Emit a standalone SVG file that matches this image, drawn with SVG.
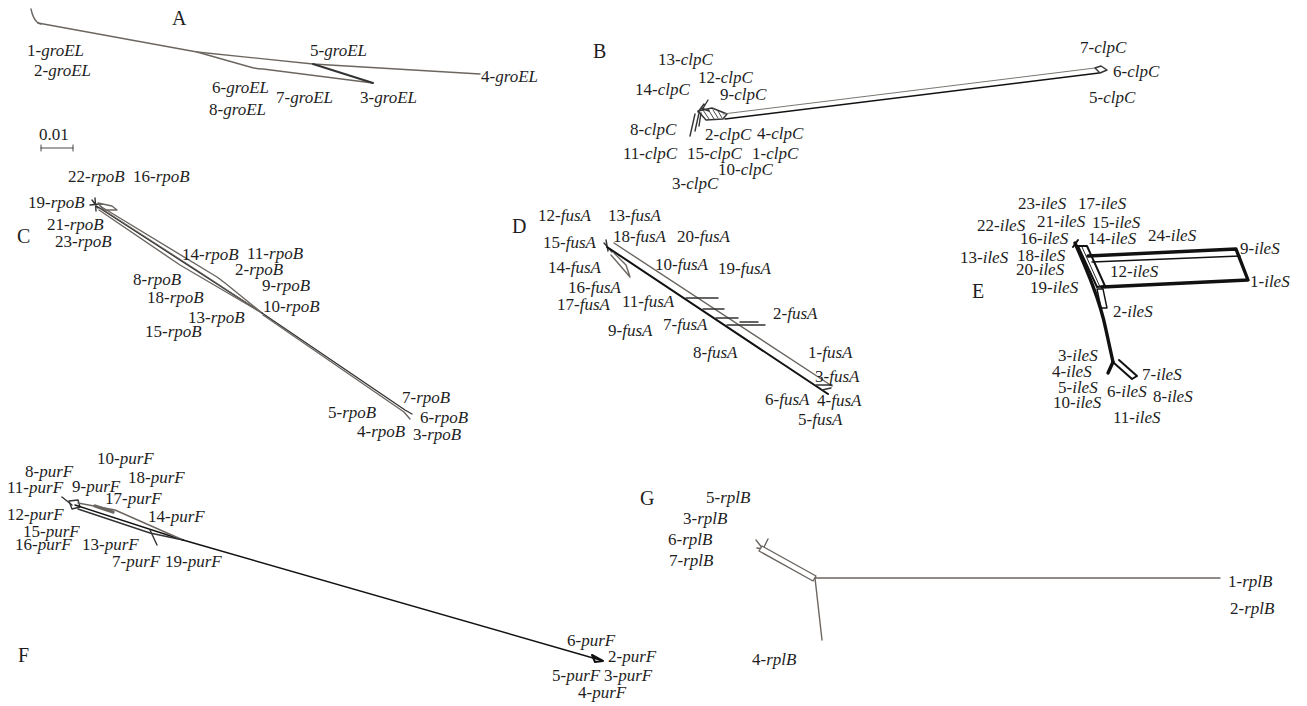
<svg xmlns="http://www.w3.org/2000/svg" width="1307" height="706" viewBox="0 0 1307 706">
<style>
  text { font-family: "Liberation Serif", "DejaVu Serif", serif; font-size: 17px; fill: #1e1e1e; }
  text .i { font-style: italic; }
  .letter { font-size: 20px; }
  .net { fill: none; stroke: #6c6661; stroke-width: 1.4; stroke-linejoin: round; stroke-linecap: round; }
  .dk { stroke: #333; }
  .blk { stroke: #111; }
  .w2 { stroke-width: 2; }
  .w3 { stroke-width: 3.4; }
  .thin { stroke-width: 0.9; }
</style>
<rect width="1307" height="706" fill="#fff"/>

<!-- A: groEL -->
<g id="panel-A">
  <g id="edges-A" class="net">
    <path d="M31,9 Q33,19 38,23 L41,24"/>
    <path d="M38,23 L197,52 L313,64 L480,74"/>
    <path d="M197,52 L250,67 Q256,69 263,69 L373,83"/>
    <path d="M313,64 L373,83" class="net dk w2"/>
  </g>
  <g id="scale-A" class="net dk thin">
    <path d="M41,148 H73 M41,145 V151 M73,145 V151"/>
  </g>
  <text x="39" y="140">0.01</text>
  <text class="letter" x="172" y="25">A</text>
  <g id="taxa-A">
    <text id="groEL-1" x="27" y="56">1-<tspan class="i">groEL</tspan></text>
    <text id="groEL-2" x="34" y="76">2-<tspan class="i">groEL</tspan></text>
    <text id="groEL-5" x="310" y="56">5-<tspan class="i">groEL</tspan></text>
    <text id="groEL-4" x="481" y="82">4-<tspan class="i">groEL</tspan></text>
    <text id="groEL-6" x="212" y="93">6-<tspan class="i">groEL</tspan></text>
    <text id="groEL-7" x="276" y="103">7-<tspan class="i">groEL</tspan></text>
    <text id="groEL-3" x="360" y="103">3-<tspan class="i">groEL</tspan></text>
    <text id="groEL-8" x="209" y="115">8-<tspan class="i">groEL</tspan></text>
  </g>
</g>

<!-- B: clpC -->
<g id="panel-B">
  <g id="edges-B" class="net dk">
    <path d="M690,136 L695,114 M695,131 L699,113 M699,126 L701,113"/>
    <path d="M708,100 L702,110 M704,104 L698,112 M701,108 L709,111"/>
    <path d="M698,111 L712,108 L727,114 L723,119 L706,120 Z"/>
    <path d="M703,110 L709,119 M708,109 L714,119 M713,110 L718,118 M718,111 L722,118" class="net dk thin"/>
    <path d="M723,114 L1095,68" class="net thin"/>
    <path d="M725,119 L1099,73" class="net blk"/>
    <path d="M1095,68 L1101,66 L1107,70 L1100,73 Z"/>
  </g>
  <text class="letter" x="593" y="58">B</text>
  <g id="taxa-B">
    <text id="clpC-13" x="658" y="65">13-<tspan class="i">clpC</tspan></text>
    <text id="clpC-12" x="698" y="83">12-<tspan class="i">clpC</tspan></text>
    <text id="clpC-14" x="635" y="95">14-<tspan class="i">clpC</tspan></text>
    <text id="clpC-9" x="720" y="100">9-<tspan class="i">clpC</tspan></text>
    <text id="clpC-8" x="630" y="135">8-<tspan class="i">clpC</tspan></text>
    <text id="clpC-2" x="705" y="140">2-<tspan class="i">clpC</tspan></text>
    <text id="clpC-4" x="757" y="139">4-<tspan class="i">clpC</tspan></text>
    <text id="clpC-11" x="623" y="159">11-<tspan class="i">clpC</tspan></text>
    <text id="clpC-15" x="687" y="159">15-<tspan class="i">clpC</tspan></text>
    <text id="clpC-1" x="752" y="159">1-<tspan class="i">clpC</tspan></text>
    <text id="clpC-10" x="718" y="175">10-<tspan class="i">clpC</tspan></text>
    <text id="clpC-3" x="672" y="189">3-<tspan class="i">clpC</tspan></text>
    <text id="clpC-7" x="1080" y="53">7-<tspan class="i">clpC</tspan></text>
    <text id="clpC-6" x="1113" y="77">6-<tspan class="i">clpC</tspan></text>
    <text id="clpC-5" x="1089" y="103">5-<tspan class="i">clpC</tspan></text>
  </g>
</g>

<!-- C: rpoB -->
<g id="panel-C">
  <g id="edges-C" class="net">
    <path d="M92,200 L98,208 M95,198 L96,211 M90,205 L100,204" class="net dk"/>
    <path d="M98,203 L112,206 L117,210 L104,210 Z"/>
    <path d="M98,207 L262,313" class="net dk"/>
    <path d="M100,206 L217,277 L225,283 L262,313"/>
    <path d="M99,210 L180,265 L262,313"/>
    <path d="M101,208 L200,272 L262,313" class="net thin"/>
    <path d="M262,313 L405,410 L412,414" class="net dk"/>
    <path d="M263,315 L404,412 L410,419"/>
  </g>
  <text class="letter" x="17" y="243">C</text>
  <g id="taxa-C">
    <text id="rpoB-22" x="68" y="182">22-<tspan class="i">rpoB</tspan></text>
    <text id="rpoB-16" x="133" y="182">16-<tspan class="i">rpoB</tspan></text>
    <text id="rpoB-19" x="28" y="208">19-<tspan class="i">rpoB</tspan></text>
    <text id="rpoB-21" x="47" y="230">21-<tspan class="i">rpoB</tspan></text>
    <text id="rpoB-23" x="55" y="247">23-<tspan class="i">rpoB</tspan></text>
    <text id="rpoB-14" x="182" y="260">14-<tspan class="i">rpoB</tspan></text>
    <text id="rpoB-11" x="247" y="259">11-<tspan class="i">rpoB</tspan></text>
    <text id="rpoB-2" x="235" y="275">2-<tspan class="i">rpoB</tspan></text>
    <text id="rpoB-8" x="133" y="285">8-<tspan class="i">rpoB</tspan></text>
    <text id="rpoB-9" x="262" y="291">9-<tspan class="i">rpoB</tspan></text>
    <text id="rpoB-18" x="147" y="303">18-<tspan class="i">rpoB</tspan></text>
    <text id="rpoB-10" x="263" y="312">10-<tspan class="i">rpoB</tspan></text>
    <text id="rpoB-13" x="188" y="323">13-<tspan class="i">rpoB</tspan></text>
    <text id="rpoB-15" x="145" y="337">15-<tspan class="i">rpoB</tspan></text>
    <text id="rpoB-7" x="402" y="403">7-<tspan class="i">rpoB</tspan></text>
    <text id="rpoB-5" x="328" y="418">5-<tspan class="i">rpoB</tspan></text>
    <text id="rpoB-6" x="420" y="423">6-<tspan class="i">rpoB</tspan></text>
    <text id="rpoB-4" x="357" y="437">4-<tspan class="i">rpoB</tspan></text>
    <text id="rpoB-3" x="413" y="440">3-<tspan class="i">rpoB</tspan></text>
  </g>
</g>

<!-- D: fusA -->
<g id="panel-D">
  <g id="edges-D" class="net dk">
    <path d="M604,243 L612,252 M606,240 L608,251"/>
    <path d="M611,255 L630,277 L626,265 L614,253" class="net"/>
    <path d="M607,247 L828,394" class="net blk w2"/>
    <path d="M614,243 L832,386" class="net"/>
    <path d="M686,298 H718 M703,309 H724 M716,318 H738 M727,325 H765 M740,322 H758"/>
    <path d="M816,385 H832 M822,390 L831,388"/>
  </g>
  <text class="letter" x="512" y="233">D</text>
  <g id="taxa-D">
    <text id="fusA-12" x="538" y="221">12-<tspan class="i">fusA</tspan></text>
    <text id="fusA-13" x="608" y="221">13-<tspan class="i">fusA</tspan></text>
    <text id="fusA-15" x="543" y="248">15-<tspan class="i">fusA</tspan></text>
    <text id="fusA-18" x="613" y="242">18-<tspan class="i">fusA</tspan></text>
    <text id="fusA-20" x="677" y="242">20-<tspan class="i">fusA</tspan></text>
    <text id="fusA-14" x="548" y="273">14-<tspan class="i">fusA</tspan></text>
    <text id="fusA-10" x="655" y="270">10-<tspan class="i">fusA</tspan></text>
    <text id="fusA-19" x="718" y="274">19-<tspan class="i">fusA</tspan></text>
    <text id="fusA-16" x="568" y="293">16-<tspan class="i">fusA</tspan></text>
    <text id="fusA-17" x="557" y="310">17-<tspan class="i">fusA</tspan></text>
    <text id="fusA-11" x="622" y="307">11-<tspan class="i">fusA</tspan></text>
    <text id="fusA-2" x="773" y="319">2-<tspan class="i">fusA</tspan></text>
    <text id="fusA-9" x="608" y="336">9-<tspan class="i">fusA</tspan></text>
    <text id="fusA-7" x="663" y="330">7-<tspan class="i">fusA</tspan></text>
    <text id="fusA-8" x="693" y="358">8-<tspan class="i">fusA</tspan></text>
    <text id="fusA-1" x="808" y="358">1-<tspan class="i">fusA</tspan></text>
    <text id="fusA-3" x="815" y="382">3-<tspan class="i">fusA</tspan></text>
    <text id="fusA-6" x="765" y="405">6-<tspan class="i">fusA</tspan></text>
    <text id="fusA-4" x="817" y="406">4-<tspan class="i">fusA</tspan></text>
    <text id="fusA-5" x="798" y="425">5-<tspan class="i">fusA</tspan></text>
  </g>
</g>

<!-- E: ileS -->
<g id="panel-E">
  <g id="edges-E" class="net blk">
    <path d="M1075,243 C1086,268 1100,300 1106,330 L1113,362" class="net blk w3"/>
    <path d="M1073,247 L1078,240" class="net blk w2"/>
    <path d="M1078,246 L1087,246 L1105,286 L1097,287 Z" class="net blk w2"/>
    <path d="M1082,247 L1100,287" class="net blk thin"/>
    <path d="M1088,256 L1236,249 L1248,280 L1102,287" class="net blk w3"/>
    <path d="M1092,262 L1240,256" class="net blk"/>
    <path d="M1097,289 L1103,289 L1107,308 L1101,308 Z" class="net blk"/>
    <path d="M1113,362 L1108,373" class="net blk w3"/>
    <path d="M1114,363 L1132,379 M1119,360 L1137,376 M1132,379 L1137,376" class="net blk w2"/>
  </g>
  <text class="letter" x="972" y="298">E</text>
  <g id="taxa-E">
    <text id="ileS-23" x="1018" y="209">23-<tspan class="i">ileS</tspan></text>
    <text id="ileS-17" x="1078" y="209">17-<tspan class="i">ileS</tspan></text>
    <text id="ileS-22" x="977" y="231">22-<tspan class="i">ileS</tspan></text>
    <text id="ileS-21" x="1037" y="227">21-<tspan class="i">ileS</tspan></text>
    <text id="ileS-15" x="1092" y="228">15-<tspan class="i">ileS</tspan></text>
    <text id="ileS-16" x="1020" y="244">16-<tspan class="i">ileS</tspan></text>
    <text id="ileS-14" x="1088" y="244">14-<tspan class="i">ileS</tspan></text>
    <text id="ileS-24" x="1148" y="241">24-<tspan class="i">ileS</tspan></text>
    <text id="ileS-9" x="1240" y="254">9-<tspan class="i">ileS</tspan></text>
    <text id="ileS-13" x="960" y="263">13-<tspan class="i">ileS</tspan></text>
    <text id="ileS-18" x="1017" y="261">18-<tspan class="i">ileS</tspan></text>
    <text id="ileS-20" x="1016" y="275">20-<tspan class="i">ileS</tspan></text>
    <text id="ileS-12" x="1110" y="277">12-<tspan class="i">ileS</tspan></text>
    <text id="ileS-1" x="1250" y="287">1-<tspan class="i">ileS</tspan></text>
    <text id="ileS-19" x="1030" y="293">19-<tspan class="i">ileS</tspan></text>
    <text id="ileS-2" x="1113" y="317">2-<tspan class="i">ileS</tspan></text>
    <text id="ileS-3" x="1058" y="361">3-<tspan class="i">ileS</tspan></text>
    <text id="ileS-4" x="1052" y="377">4-<tspan class="i">ileS</tspan></text>
    <text id="ileS-7" x="1142" y="380">7-<tspan class="i">ileS</tspan></text>
    <text id="ileS-5" x="1058" y="393">5-<tspan class="i">ileS</tspan></text>
    <text id="ileS-6" x="1107" y="397">6-<tspan class="i">ileS</tspan></text>
    <text id="ileS-8" x="1153" y="402">8-<tspan class="i">ileS</tspan></text>
    <text id="ileS-10" x="1053" y="408">10-<tspan class="i">ileS</tspan></text>
    <text id="ileS-11" x="1113" y="423">11-<tspan class="i">ileS</tspan></text>
  </g>
</g>

<!-- F: purF -->
<g id="panel-F">
  <g id="edges-F" class="net dk">
    <path d="M62,497 L72,505"/>
    <path d="M69,501 L78,500 L80,507 L72,509 Z"/>
    <path d="M75,505 L183,540" class="net blk"/>
    <path d="M78,503 L115,510 L183,540" class="net"/>
    <path d="M95,506 L113,512" class="net w3"/>
    <path d="M78,509 L150,533 L183,540"/>
    <path d="M150,530 L157,545"/>
    <path d="M183,540 L600,660" class="net blk"/>
    <path d="M592,655 L603,661 L595,662 Z" class="net blk w2"/>
  </g>
  <text class="letter" x="18" y="662">F</text>
  <g id="taxa-F">
    <text id="purF-10" x="97" y="464">10-<tspan class="i">purF</tspan></text>
    <text id="purF-8" x="25" y="477">8-<tspan class="i">purF</tspan></text>
    <text id="purF-18" x="128" y="483">18-<tspan class="i">purF</tspan></text>
    <text id="purF-11" x="7" y="493">11-<tspan class="i">purF</tspan></text>
    <text id="purF-9" x="72" y="492">9-<tspan class="i">purF</tspan></text>
    <text id="purF-17" x="105" y="504">17-<tspan class="i">purF</tspan></text>
    <text id="purF-12" x="7" y="520">12-<tspan class="i">purF</tspan></text>
    <text id="purF-14" x="148" y="522">14-<tspan class="i">purF</tspan></text>
    <text id="purF-15" x="23" y="537">15-<tspan class="i">purF</tspan></text>
    <text id="purF-16" x="15" y="550">16-<tspan class="i">purF</tspan></text>
    <text id="purF-13" x="82" y="550">13-<tspan class="i">purF</tspan></text>
    <text id="purF-7" x="112" y="567">7-<tspan class="i">purF</tspan></text>
    <text id="purF-19" x="165" y="567">19-<tspan class="i">purF</tspan></text>
    <text id="purF-6" x="567" y="646">6-<tspan class="i">purF</tspan></text>
    <text id="purF-2" x="608" y="662">2-<tspan class="i">purF</tspan></text>
    <text id="purF-5" x="552" y="681">5-<tspan class="i">purF</tspan></text>
    <text id="purF-3" x="604" y="681">3-<tspan class="i">purF</tspan></text>
    <text id="purF-4" x="578" y="698">4-<tspan class="i">purF</tspan></text>
  </g>
</g>

<!-- G: rplB -->
<g id="panel-G">
  <g id="edges-G" class="net">
    <path d="M756,540 L763,549 M768,539 L763,549 M757,548 L763,549"/>
    <path d="M762,546 L816,576 L813,581 L759,551 Z" fill="#fff"/>
    <path d="M815,578 H1220"/>
    <path d="M815,578 L822,640"/>
  </g>
  <text class="letter" x="640" y="505">G</text>
  <g id="taxa-G">
    <text id="rplB-5" x="706" y="503">5-<tspan class="i">rplB</tspan></text>
    <text id="rplB-3" x="683" y="524">3-<tspan class="i">rplB</tspan></text>
    <text id="rplB-6" x="668" y="545">6-<tspan class="i">rplB</tspan></text>
    <text id="rplB-7" x="669" y="566">7-<tspan class="i">rplB</tspan></text>
    <text id="rplB-1" x="1228" y="587">1-<tspan class="i">rplB</tspan></text>
    <text id="rplB-2" x="1230" y="614">2-<tspan class="i">rplB</tspan></text>
    <text id="rplB-4" x="752" y="665">4-<tspan class="i">rplB</tspan></text>
  </g>
</g>
</svg>
